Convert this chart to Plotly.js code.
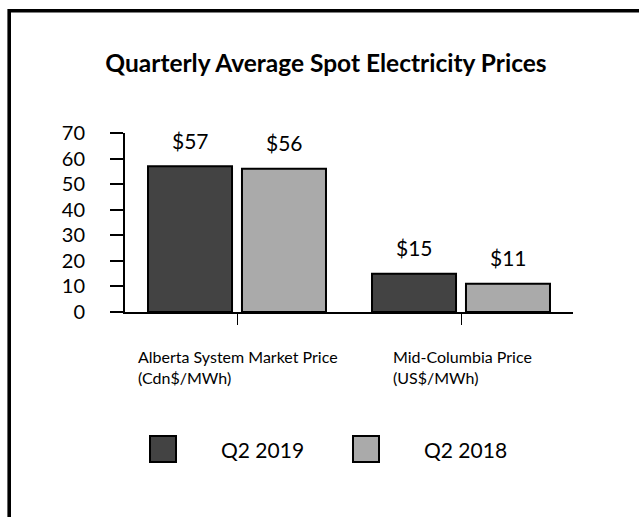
<!DOCTYPE html>
<html>
<head>
<meta charset="utf-8">
<script src="https://cdn.plot.ly/plotly-3.0.1.min.js"></script>
<style>html,body{margin:0;padding:0;background:#fff;}#chart{width:639px;height:517px;}</style>
</head>
<body>
<div id="chart"></div>
<script>
const categories = ["Alberta System Market Price", "Mid-Columbia Price"];
const categoryLabels = ["Alberta System Market Price<br>(Cdn$/MWh)", "Mid-Columbia Price<br>(US$/MWh)"];
const seriesNames = ["Q2 2019", "Q2 2018"];
const q2_2019 = [57, 15];
const q2_2018 = [56, 11];
const valueLabels2019 = ["$57", "$15"];
const valueLabels2018 = ["$56", "$11"];
const yTicks = [0, 10, 20, 30, 40, 50, 60, 70];

const W = 639, H = 517;
const mL = 125, mR = 66, mT = 133, mB = 205;
const plotW = W - mL - mR, plotH = H - mT - mB;
const px = x => (x - mL) / plotW;
const py = y => (H - mB - y) / plotH;

const colors = ["#434343", "#aaaaaa"];
const seriesVals = [q2_2019, q2_2018];
const seriesLabels = [valueLabels2019, valueLabels2018];

const traces = seriesNames.map((n, i) => ({
  type: "bar",
  name: n,
  x: categories,
  y: seriesVals[i],
  marker: {color: colors[i], line: {color: "#000", width: 2}},
  hoverinfo: "none"
}));

const annotations = [];
seriesVals.forEach((vals, i) => {
  vals.forEach((v, j) => {
    annotations.push({
      x: categories[j], y: v, xref: "x", yref: "y",
      xshift: i === 0 ? -47 : 47, yshift: 26,
      text: seriesLabels[i][j], showarrow: false,
      xanchor: "center", yanchor: "middle",
      font: {family: "Lato", size: 21, color: "#000"}
    });
  });
});
const catShift = [-101, -70];
categories.forEach((c, j) => {
  annotations.push({
    x: c, xref: "x", y: py(366.5), yref: "paper",
    xshift: catShift[j], text: categoryLabels[j], showarrow: false,
    xanchor: "left", yanchor: "middle", align: "left",
    font: {family: "Lato", size: 16, color: "#000"}
  });
});
const legendTextX = [219, 422];
const legendBoxX = [150, 353];
const shapes = [];
seriesNames.forEach((n, i) => {
  annotations.push({
    x: px(legendTextX[i]), xref: "paper", y: py(449), yref: "paper",
    text: n, showarrow: false, xanchor: "left", yanchor: "middle",
    font: {family: "Lato", size: 21, color: "#000"}
  });
  shapes.push({
    type: "rect", xref: "paper", yref: "paper",
    x0: px(legendBoxX[i]), x1: px(legendBoxX[i] + 26),
    y0: py(462), y1: py(436),
    fillcolor: colors[i], line: {color: "#000", width: 2}
  });
});
shapes.push({
  type: "rect", xref: "paper", yref: "paper",
  x0: px(9.2), x1: px(700), y0: py(560), y1: py(10.8),
  line: {color: "#000", width: 3.6}, fillcolor: "rgba(0,0,0,0)", layer: "below"
});

const layout = {
  width: W, height: H,
  margin: {l: mL, r: mR, t: mT, b: mB, pad: 0},
  paper_bgcolor: "#fff", plot_bgcolor: "#fff",
  showlegend: false,
  barmode: "group", bargap: 0.161, bargroupgap: 0.106,
  title: {
    text: "<b>Quarterly Average Spot Electricity Prices</b>",
    font: {family: "Lato", size: 24.5, color: "#000"},
    xref: "container", x: 326 / W, xanchor: "center",
    yref: "container", y: 1 - 63 / H, yanchor: "middle"
  },
  xaxis: {
    range: [-0.5, 1.5], showticklabels: false,
    showline: true, linecolor: "#000", linewidth: 2,
    ticks: "outside", ticklen: 11, tickwidth: 1, tickcolor: "#000",
    showgrid: false, zeroline: false, fixedrange: true
  },
  yaxis: {
    range: [0, 70], tickvals: yTicks,
    showline: true, linecolor: "#000", linewidth: 2,
    ticks: "outside", ticklen: 13, tickwidth: 2, tickcolor: "#000",
    showgrid: false, zeroline: false,
    tickfont: {family: "Lato", size: 20, color: "#000"},
    ticklabelstandoff: 21, fixedrange: true
  },
  annotations: annotations,
  shapes: shapes,
  font: {family: "Lato", color: "#000"}
};

Plotly.newPlot("chart", traces, layout, {displayModeBar: false, staticPlot: true});
</script>
</body>
</html>
